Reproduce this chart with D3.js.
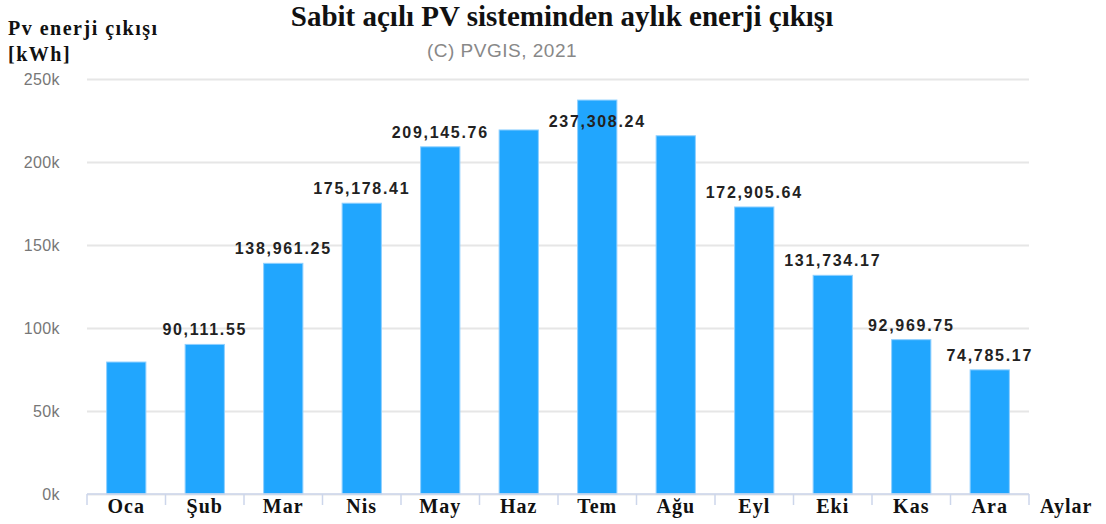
<!DOCTYPE html>
<html>
<head>
<meta charset="utf-8">
<script src="https://cdn.jsdelivr.net/npm/d3@7"></script>
<style>
  body { margin: 0; background: #fff; }
  svg { display: block; }
</style>
</head>
<body>
<div id="chart"></div>
<script>
// monthly output, kWh
const months = ['Oca', 'Şub', 'Mar', 'Nis', 'May', 'Haz', 'Tem', 'Ağu', 'Eyl', 'Eki', 'Kas', 'Ara'];
const output = [79500, 90111.55, 138961.25, 175178.41, 209145.76, 219300, 237308.24, 215800, 172905.64, 131734.17, 92969.75, 74785.17];
// which bars carry a value label in the original
const labelled = [false, true, true, true, true, false, true, false, true, true, true, true];
const yTicks = [0, 50000, 100000, 150000, 200000, 250000];

const width = 1106, height = 524;
const plotLeft = 87, plotRight = 1029, plotTop = 79, plotBottom = 494;
const serif = '"Liberation Serif", "Times New Roman", serif';
const sans = '"Liberation Sans", Arial, sans-serif';

const svg = d3.select('#chart').append('svg')
  .attr('width', width)
  .attr('height', height);

const x = d3.scaleBand()
  .domain(months)
  .range([plotLeft, plotRight])
  .paddingInner(0.5)
  .paddingOuter(0.25);

const y = d3.scaleLinear()
  .domain([0, 250000])
  .range([plotBottom, plotTop]);

// gridlines + y labels
const yAxis = svg.append('g')
  .attr('transform', `translate(${plotLeft},0)`)
  .call(d3.axisLeft(y).tickValues(yTicks).tickSize(-(plotRight - plotLeft)).tickPadding(27)
    .tickFormat(d => (d / 1000) + 'k'));
yAxis.select('.domain').remove();
yAxis.selectAll('.tick line').attr('stroke', '#e6e6e6').attr('stroke-width', 2);
yAxis.selectAll('.tick text')
  .attr('fill', '#777')
  .style('font', `16px ${sans}`)
  .style('letter-spacing', '0.4px');

// bars
svg.selectAll('rect.bar')
  .data(output)
  .enter()
  .append('rect')
  .attr('class', 'bar')
  .attr('x', (d, i) => x(months[i]))
  .attr('y', d => y(d))
  .attr('width', x.bandwidth())
  .attr('height', d => plotBottom - y(d))
  .attr('fill', '#21a6fe')
  .attr('stroke', '#8fd0ff')
  .attr('stroke-width', 1);

// x axis with ticks between categories
const step = x.step();
const xAxis = svg.append('g').attr('transform', `translate(0,${plotBottom})`);
xAxis.append('line')
  .attr('x1', plotLeft).attr('x2', plotRight)
  .attr('stroke', '#ccd6eb').attr('stroke-width', 1.5);
xAxis.selectAll('line.tick')
  .data(d3.range(months.length + 1))
  .enter()
  .append('line')
  .attr('class', 'tick')
  .attr('x1', i => plotLeft + i * step).attr('x2', i => plotLeft + i * step)
  .attr('y1', 0).attr('y2', 11)
  .attr('stroke', '#ccd6eb').attr('stroke-width', 1.5);
xAxis.selectAll('text')
  .data(months)
  .enter()
  .append('text')
  .attr('x', d => x(d) + x.bandwidth() / 2)
  .attr('y', 19)
  .attr('text-anchor', 'middle')
  .attr('fill', '#111')
  .style('font', `bold 20px ${serif}`)
  .style('letter-spacing', '1px')
  .text(d => d);

svg.append('text')
  .attr('x', 1040).attr('y', plotBottom + 19)
  .attr('fill', '#111')
  .style('font', `bold 20px ${serif}`)
  .style('letter-spacing', '1px')
  .text('Aylar');

// value labels; the tallest one sits inside the bar
const fmt = d3.format(',.2f');
svg.selectAll('text.val')
  .data(output.map((v, i) => ({ v, i })).filter(d => labelled[d.i]))
  .enter()
  .append('text')
  .attr('class', 'val')
  .attr('x', d => x(months[d.i]) + x.bandwidth() / 2)
  .attr('y', d => d.v === d3.max(output) ? y(d.v) + 27 : y(d.v) - 9)
  .attr('text-anchor', 'middle')
  .attr('fill', '#222')
  .style('font', `bold 16px ${sans}`)
  .style('letter-spacing', '1.7px')
  .text(d => fmt(d.v));

// titles
svg.append('text')
  .attr('x', 562).attr('y', 26)
  .attr('text-anchor', 'middle')
  .attr('fill', '#111')
  .style('font', `bold 29px ${serif}`)
  .text('Sabit açılı PV sisteminden aylık enerji çıkışı');

svg.append('text')
  .attr('x', 502).attr('y', 57)
  .attr('text-anchor', 'middle')
  .attr('fill', '#888')
  .style('font', `19px ${sans}`)
  .style('letter-spacing', '0.5px')
  .text('(C) PVGIS, 2021');

svg.append('text')
  .attr('x', 8).attr('y', 35)
  .attr('fill', '#111')
  .style('font', `bold 20px ${serif}`)
  .style('letter-spacing', '1.5px')
  .text('Pv enerji çıkışı');
svg.append('text')
  .attr('x', 8).attr('y', 61)
  .attr('fill', '#111')
  .style('font', `bold 20px ${serif}`)
  .style('letter-spacing', '1.5px')
  .text('[kWh]');
</script>
</body>
</html>
